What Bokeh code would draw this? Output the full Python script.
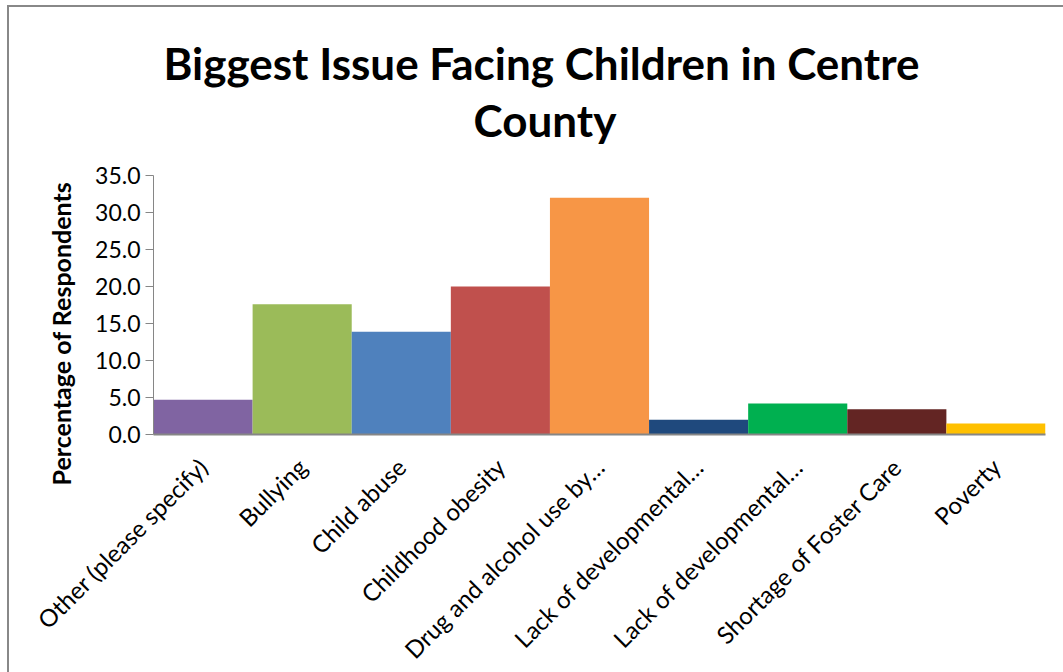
import math
from bokeh.plotting import figure
from bokeh.models import Title, FixedTicker, PrintfTickFormatter, ColumnDataSource, Range1d
from bokeh.embed import file_html
from bokeh.resources import INLINE

categories = ["Other (please specify)", "Bullying", "Child abuse", "Childhood obesity",
              "Drug and alcohol use by…", "Lack of developmental…", "Lack of developmental…",
              "Shortage of Foster Care", "Poverty"]
values = [4.7, 17.6, 13.9, 20.0, 32.0, 2.0, 4.2, 3.4, 1.5]
colors = ["#8064A2", "#9BBB59", "#4F81BD", "#C0504D", "#F79646",
          "#1F497D", "#00B050", "#632523", "#FFC000"]
y_ticks = [0, 5, 10, 15, 20, 25, 30, 35]
title_lines = ["Biggest Issue Facing Children in Centre", "County"]

positions = list(range(1, len(categories) + 1))
src = ColumnDataSource(dict(x=positions, top=values, color=colors))

FONT = "Lato"

p = figure(frame_width=892, frame_height=259,
           min_border_left=153, min_border_right=18, min_border_top=175, min_border_bottom=238,
           x_range=Range1d(0.5, len(categories) + 0.5), y_range=Range1d(0, 35),
           output_backend="svg", toolbar_location=None, title=None)

# transparent canvas so the chart-area border drawn by CSS shows through
p.border_fill_alpha = 0
p.background_fill_alpha = 0
p.styles = {
    "background": ("linear-gradient(#888888,#888888) 7px 5px / 2px 100% no-repeat, "
                   "linear-gradient(#888888,#888888) 7px 5px / 100% 2px no-repeat, #ffffff"),
}

p.vbar(x="x", top="top", width=1.0, color="color", source=src, line_color=None)

title_text = title_lines[0] + "\n" + "\u00a0" * 29 + title_lines[1]
t1 = Title(text=title_text, align="left", text_font=FONT,
           text_font_size="44px", text_font_style="bold", text_color="black",
           offset=10, standoff=59, text_line_height=1.09)
p.add_layout(t1, "above")

ylab = Title(text="Percentage of Respondents", align="left", text_font=FONT,
             text_font_size="25px", text_font_style="bold", text_color="black",
             offset=-51, standoff=33)
p.add_layout(ylab, "left")

p.outline_line_color = None
p.xgrid.grid_line_color = None
p.ygrid.grid_line_color = None

p.yaxis.ticker = FixedTicker(ticks=y_ticks)
p.yaxis.formatter = PrintfTickFormatter(format="%.1f")
p.yaxis.axis_line_color = "#868686"
p.yaxis.major_tick_line_color = "#868686"
p.yaxis.major_tick_out = 8
p.yaxis.major_tick_in = 0
p.yaxis.minor_tick_line_color = None
p.yaxis.major_label_text_font = FONT
p.yaxis.major_label_text_font_size = "23px"
p.yaxis.major_label_text_color = "black"

p.xaxis.ticker = FixedTicker(ticks=positions)
p.xaxis.major_label_overrides = {pos: lab for pos, lab in zip(positions, categories)}
p.xaxis.major_label_orientation = math.pi / 4
p.xaxis.axis_line_color = "#868686"
p.xaxis.axis_line_width = 2
p.xaxis.major_tick_line_color = None
p.xaxis.minor_tick_line_color = None
p.xaxis.major_label_text_font = FONT
p.xaxis.major_label_text_font_size = "24px"
p.xaxis.major_label_text_color = "black"
p.xaxis.major_label_standoff = 22

open("out.html", "w").write(file_html(p, INLINE))
